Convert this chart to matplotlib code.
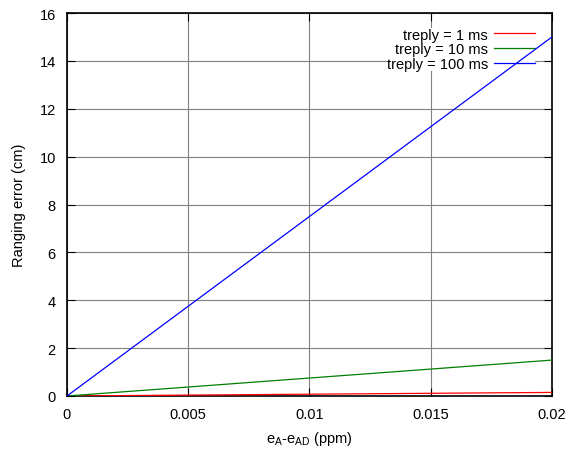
import matplotlib
matplotlib.use("Agg")
import matplotlib.pyplot as plt
import numpy as np

plt.rcParams['font.family'] = ['Liberation Sans', 'DejaVu Sans']
plt.rcParams['mathtext.fontset'] = 'custom'
plt.rcParams['mathtext.rm'] = 'Liberation Sans'

x_vals = [0.0, 0.02]
series_labels = ["treply = 1 ms", "treply = 10 ms", "treply = 100 ms"]
series_values = [[0.0, 0.15], [0.0, 1.5], [0.0, 15.0]]
series_colors = ["#ff0000", "#008000", "#0000ff"]
x_ticks = [0, 0.005, 0.01, 0.015, 0.02]
x_tick_labels = ["0", "0.005", "0.01", "0.015", "0.02"]
y_ticks = [0, 2, 4, 6, 8, 10, 12, 14, 16]

fig = plt.figure(figsize=(5.71, 4.52), dpi=100)
ax = fig.add_axes([0.1173, 0.1217, 0.9667 - 0.1173, 0.969 - 0.1217])

for lab, vals, col in zip(series_labels, series_values, series_colors):
    ax.plot(x_vals, vals, color=col, lw=0.9, label=lab, zorder=3)

ax.set_xlim(0, 0.02)
ax.set_ylim(0, 16)
ax.set_xticks(x_ticks)
ax.set_xticklabels(x_tick_labels)
ax.set_yticks(y_ticks)
ax.grid(True, color="#808080", lw=0.8)
ax.set_axisbelow(True)
ax.tick_params(direction="in", length=6, width=0.8, labelsize=10.5, pad=8,
               top=True, right=True)
for s in ax.spines.values():
    s.set_linewidth(1.2)

ax.set_xlabel(r"e$_{\mathrm{A}}$-e$_{\mathrm{AD}}$ (ppm)", fontsize=10.5, labelpad=6)
ax.set_ylabel("Ranging error (cm)", fontsize=10.5, labelpad=10)

leg = ax.legend(loc="upper right", bbox_to_anchor=(0.9655, 0.962),
                markerfirst=False, frameon=True,
                fontsize=10.5, handlelength=2.8, labelspacing=0.06,
                borderpad=0.0, handletextpad=0.45, borderaxespad=0.0,
                fancybox=False)
leg.get_frame().set_edgecolor("none")
leg.get_frame().set_facecolor("white")
leg.get_frame().set_alpha(1.0)
leg.set_zorder(2)
for t in leg.get_texts():
    t.set_ha("right")

fig.savefig("out.png", dpi=100)
